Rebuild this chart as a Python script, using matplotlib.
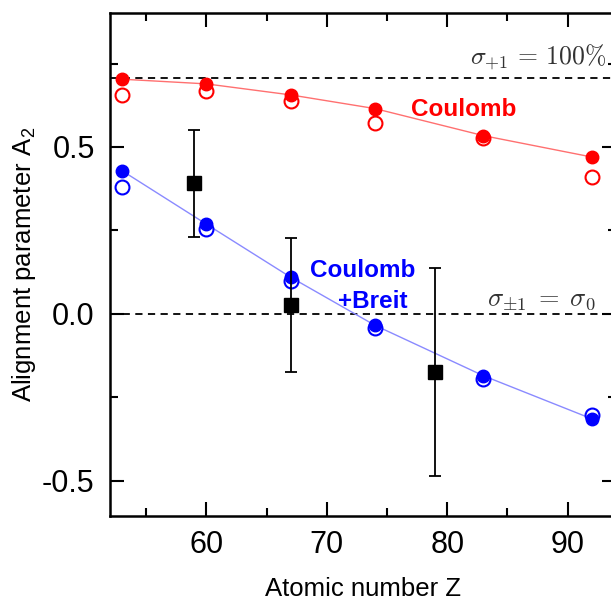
import matplotlib
matplotlib.use("Agg")
import matplotlib.pyplot as plt
from matplotlib.ticker import MultipleLocator

plt.rcParams['font.family'] = ['Liberation Sans', 'DejaVu Sans']
plt.rcParams['mathtext.fontset'] = 'cm'
plt.rcParams['axes.unicode_minus'] = False

# atomic numbers of the calculated points
Z_calc = [53, 60, 67, 74, 83, 92]
# Coulomb only
coul_full = [0.703, 0.689, 0.656, 0.615, 0.534, 0.470]
coul_open = [0.656, 0.669, 0.639, 0.573, 0.526, 0.411]
# Coulomb + Breit
breit_full = [0.429, 0.269, 0.110, -0.034, -0.185, -0.314]
breit_open = [0.381, 0.254, 0.100, -0.043, -0.195, -0.304]

# experiment
Z_exp = [59, 67, 79]
A2_exp = [0.391, 0.027, -0.173]
A2_err = [0.161, 0.200, 0.311]

# reference lines
ref_full = 0.707
ref_zero = 0.0

fig = plt.figure(figsize=(6.11, 6.03), dpi=100)
ax = fig.add_axes([0.180, 0.1443, 0.828, 0.834])

red = '#ff0000'
blue = '#0000ff'

ax.axhline(ref_full, color='black', ls=(0, (4, 3)), lw=1.3, zorder=1)
ax.axhline(ref_zero, color='black', ls=(0, (4, 3)), lw=1.3, zorder=1)

ax.plot(Z_calc, coul_full, color='#ff7070', lw=1.0, zorder=2)
ax.plot(Z_calc, breit_full, color='#8a8aff', lw=1.0, zorder=2)

ax.plot(Z_calc, coul_open, 'o', ms=10, mfc='white', mec=red, mew=1.5, zorder=3)
ax.plot(Z_calc, coul_full, 'o', ms=9, color=red, zorder=4)
ax.plot(Z_calc, breit_open, 'o', ms=10, mfc='white', mec=blue, mew=1.5, zorder=3)
ax.plot(Z_calc, breit_full, 'o', ms=9, color=blue, zorder=4)

ax.errorbar(Z_exp, A2_exp, yerr=A2_err, fmt='s', ms=10.5, color='black',
            ecolor='black', elinewidth=1.3, capsize=4.5, capthick=1.3, zorder=5)

ax.text(81.4, 0.611, 'Coulomb', color=red, fontsize=17.5, fontweight='bold',
        ha='center', va='center')
ax.text(73.0, 0.130, 'Coulomb', color=blue, fontsize=17.5, fontweight='bold',
        ha='center', va='center')
ax.text(73.8, 0.037, '+Breit', color=blue, fontsize=17.5, fontweight='bold',
        ha='center', va='center')
ax.text(81.9, 0.751, r'$\sigma_{+1} \,=\, 100\%$', fontsize=18.5, color='#333333',
        ha='left', va='baseline')
ax.text(83.3, 0.024, r'$\sigma_{\pm1} \;=\; \sigma_0$', fontsize=19, color='#333333',
        ha='left', va='baseline')

ax.set_xlim(52, 94)
ax.set_ylim(-0.605, 0.901)
ax.xaxis.set_major_locator(MultipleLocator(10))
ax.xaxis.set_minor_locator(MultipleLocator(5))
ax.yaxis.set_major_locator(MultipleLocator(0.5))
ax.yaxis.set_minor_locator(MultipleLocator(0.25))
ax.tick_params(which='both', direction='in', top=True, right=True, width=1.5)
ax.tick_params(which='major', length=10, labelsize=22, pad=10)
ax.tick_params(axis='y', which='major', pad=11)
ax.tick_params(which='minor', length=6)
for s in ax.spines.values():
    s.set_linewidth(1.8)

ax.set_xlabel('Atomic number Z', fontsize=18.5, labelpad=12)
ax.set_ylabel(r'Alignment parameter A$_\mathregular{2}$', fontsize=18.5, labelpad=3)

fig.savefig('out.png', dpi=100)
